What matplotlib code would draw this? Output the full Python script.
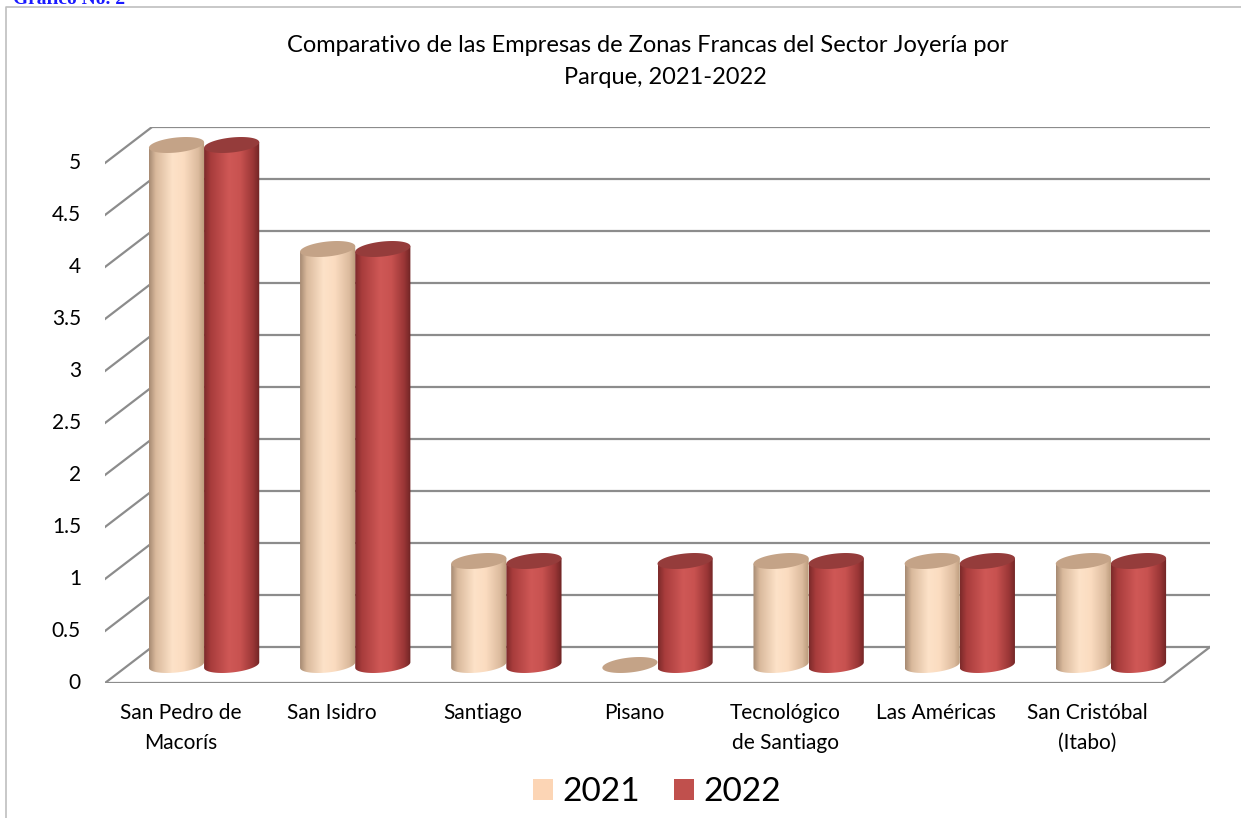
import numpy as np
import matplotlib
matplotlib.use("Agg")
import matplotlib.pyplot as plt
from matplotlib.patches import Polygon, Patch
from matplotlib.lines import Line2D
from matplotlib.colors import to_rgb

plt.rcParams["font.family"] = ["Lato", "DejaVu Sans"]

# ---------- data ----------
categories = ["San Pedro de\nMacorís", "San Isidro", "Santiago", "Pisano",
              "Tecnológico\nde Santiago", "Las Américas", "San Cristóbal\n(Itabo)"]
v2021 = [5, 4, 1, 0, 1, 1, 1]
v2022 = [5, 4, 1, 1, 1, 1, 1]
years = ["2021", "2022"]
yticks = [0, 0.5, 1, 1.5, 2, 2.5, 3, 3.5, 4, 4.5, 5]
title1 = "Comparativo de las Empresas de Zonas Francas del Sector Joyería por"
title2 = "Parque, 2021-2022"

# ---------- 3D-ish projection constants ----------
W, H = 1241, 818
PX_X, PX_Y = 151.1, 104.0          # pixels per category / per value unit
DEPTH_X, DEPTH_Y = 47 / PX_X, 36 / PX_Y
MID = 0.5
BAR_W = 0.365
ELL_B = 7.5 / PX_Y
SHEAR = 0.10 * PX_X / PX_Y

body_stops = {
    "2021": [(0.0, "#a68a72"), (0.12, "#d9b99c"), (0.42, "#fde2c8"), (0.62, "#fbdcc0"),
             (0.88, "#dcbb9e"), (1.0, "#b89878")],
    "2022": [(0.0, "#7c2a2a"), (0.12, "#a83c3c"), (0.45, "#cf5856"), (0.65, "#c85250"),
             (0.88, "#9a3636"), (1.0, "#6e2424")],
}
top_col = {"2021": "#c4a387", "2022": "#953c3b"}
legend_col = {"2021": "#fcd5b5", "2022": "#c0504d"}

fig = plt.figure(figsize=(W / 100, H / 100), dpi=100)
ax = fig.add_axes([105 / W, 1 - 683 / H, 1105 / W, 556 / H])
ax.set_xlim(-0.5, 6.5 + DEPTH_X)
ax.set_ylim(0, 5 + DEPTH_Y)
ax.axis("off")

gcol, glw = "#8c8c8c", 1.6
x0, x1 = -0.5, len(categories) - 0.5
for v in yticks:
    ax.plot([x0 + DEPTH_X, x1 + DEPTH_X], [v + DEPTH_Y, v + DEPTH_Y], color=gcol, lw=glw, zorder=1)
    ax.plot([x0, x0 + DEPTH_X], [v, v + DEPTH_Y], color=gcol, lw=glw, zorder=1)
    ax.text(x0 - 24 / PX_X, v, f"{v:g}", ha="right", va="center", fontsize=15)
ax.plot([x0, x1, x1 + DEPTH_X], [0, 0, DEPTH_Y], color=gcol, lw=glw, zorder=1)


def gradient(stops, n=200):
    pos = [p for p, _ in stops]
    cols = np.array([to_rgb(c) for _, c in stops])
    t = np.linspace(0, 1, n)
    return np.stack([np.interp(t, pos, cols[:, i]) for i in range(3)], axis=1)[None, :, :]


def ell(cx, cy, a, t0, t1, n=80):
    t = np.linspace(t0, t1, n)
    x = cx + a * np.cos(t)
    y = cy + ELL_B * np.sin(t) + SHEAR * (x - cx)
    return np.column_stack([x, y])


def cylinder(cx, val, year, z):
    a = BAR_W / 2
    base = MID * DEPTH_Y
    top = val + base
    if val > 0:
        pts = np.vstack([[[cx - a, top - SHEAR * a]],
                         ell(cx, base, a, np.pi, 2 * np.pi),
                         [[cx + a, top + SHEAR * a]]])
        clip = Polygon(pts, closed=True, transform=ax.transData)
        im = ax.imshow(gradient(body_stops[year]), extent=[cx - a, cx + a, base - 0.2, top + 0.2],
                       aspect="auto", interpolation="bilinear", zorder=z)
        im.set_clip_path(clip)
    ax.add_patch(Polygon(ell(cx, top, a, 0, 2 * np.pi), closed=True, fc=top_col[year],
                         ec="none", zorder=z + 0.001))


z = 3
for k in range(len(categories)):
    for j, (year, vals) in enumerate(zip(years, [v2021, v2022])):
        cx = k + MID * DEPTH_X + (j - 0.5) * BAR_W
        cylinder(cx, vals[k], year, z)
        z += 0.01
    ax.text(k, -20 / PX_Y, categories[k], ha="center", va="top", fontsize=15, linespacing=1.6)

ax.set_xlim(-0.5, 6.5 + DEPTH_X)
ax.set_ylim(0, 5 + DEPTH_Y)

fig.text(648 / W, 1 - 45 / H, title1, ha="center", va="center", fontsize=17)
fig.text(665 / W, 1 - 77 / H, title2, ha="center", va="center", fontsize=17)

handles = [Patch(fc=legend_col[y], ec="none") for y in years]
fig.legend(handles, years, loc="center", bbox_to_anchor=(657 / W, 1 - 792 / H), ncol=2,
           frameon=False, fontsize=24, handlelength=0.6, handleheight=0.6,
           handletextpad=0.3, columnspacing=1.0)

# chart frame and cropped document header
fig.add_artist(Line2D([6 / W, 6 / W, 1], [0, 1 - 7 / H, 1 - 7 / H], color="#bfbfbf", lw=1.2))
fig.text(13 / W, 1 - 4 / H, "Gráfico No. 2", ha="left", va="baseline", fontsize=14,
         color="#1a1aff", fontweight="bold", family="Liberation Serif")

fig.savefig("out.png", dpi=100)
